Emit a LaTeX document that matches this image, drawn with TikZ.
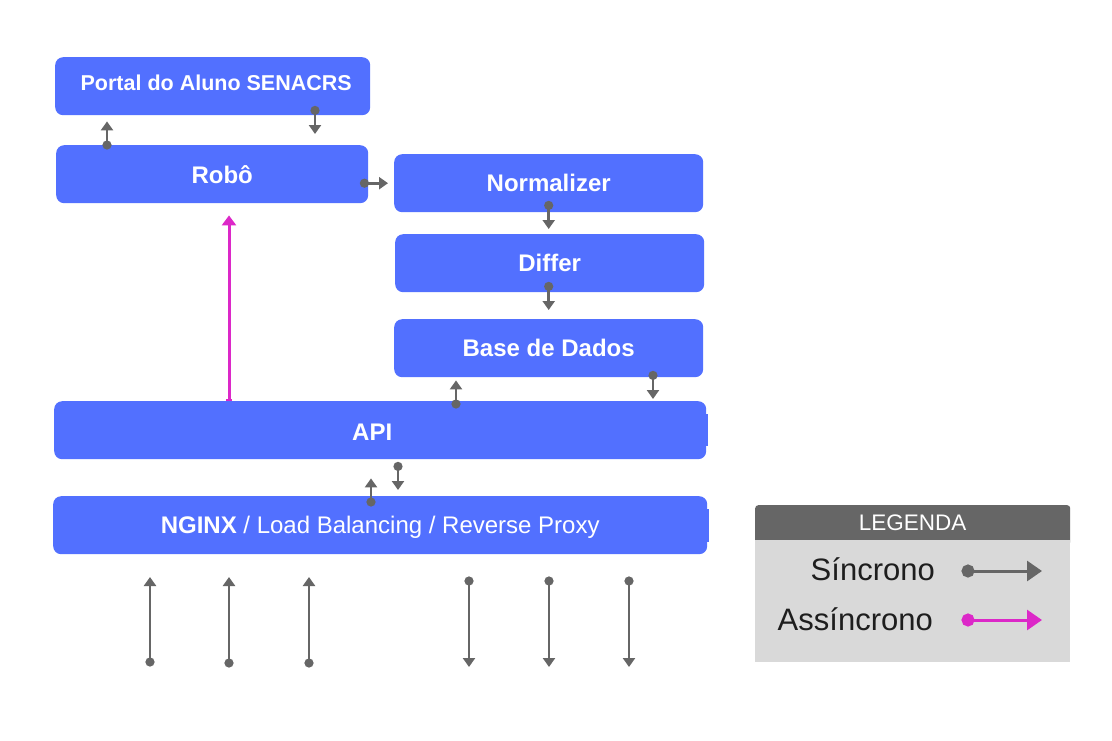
\documentclass[tikz,border=0pt]{standalone}
\usepackage{fontspec}
\setmainfont{Liberation Sans}
\usetikzlibrary{arrows.meta}
\definecolor{boxblue}{HTML}{5270FF}
\definecolor{agray}{HTML}{666666}
\definecolor{amag}{HTML}{DC28C8}
\definecolor{leghead}{HTML}{666666}
\definecolor{legbody}{HTML}{D9D9D9}
\definecolor{legtext}{HTML}{1E1E1E}
\newcommand{\vshift}[2]{\raisebox{#1}[\height][\depth]{#2}}
\begin{document}
\begin{tikzpicture}[x=1pt,y=-1pt,
  box/.style={fill=boxblue, rounded corners=8pt, text=white, inner sep=0pt, anchor=north west,
    minimum height=58pt, font=\fontsize{24}{28}\selectfont\bfseries},
  sync/.style={draw=agray, line width=2.9pt, {Circle[length=9pt]}-{Triangle[width=12pt,length=9pt]}},
  async/.style={draw=amag, line width=3pt, {Rectangle[width=6pt,length=2pt]}-{Triangle[width=14pt,length=10pt]}},
  legsync/.style={draw=agray, line width=3pt, {Circle[length=13pt]}-{Triangle[width=20pt,length=15pt]}},
  legasync/.style={draw=amag, line width=3pt, {Circle[length=13pt]}-{Triangle[width=20pt,length=15pt]}},
  legfont/.style={font=\fontsize{31}{36}\selectfont, text=legtext, inner sep=0pt},
]
\useasboundingbox[fill=white] (0,0) rectangle (1112,740);

% boxes
\node[box, minimum width=315pt, font=\fontsize{21.5}{26}\selectfont\bfseries] (portal) at (55,57) {\hspace*{7pt}\vshift{3pt}{Portal do Aluno SENACRS}};
\node[box, minimum width=312pt] (robo) at (56,145) {\hspace*{20pt}Robô};
\node[box, minimum width=309pt] (norm) at (394,154) {Normalizer};
\node[box, minimum width=309pt] (differ) at (395,234) {Differ};
\node[box, minimum width=309pt] (base) at (394,319) {Base de Dados};
\node[box, minimum width=652pt] (api) at (54,401) {\hspace*{-16pt}\vshift{-2pt}{API}};
\node[box, minimum width=654pt] (nginx) at (53,496) {\vshift{-2pt}{NGINX{\mdseries{} / Load Balancing / Reverse Proxy}}};
\fill[boxblue] ([yshift=16pt]api.east) rectangle ([xshift=2pt,yshift=-16pt]api.east);
\fill[boxblue] ([yshift=16pt]nginx.east) rectangle ([xshift=2pt,yshift=-17pt]nginx.east);

% synchronous connectors
\draw[sync] ([shift={(51,4.5)}]robo.north west) -- ([shift={(52,6)}]portal.south west);
\draw[sync] ([shift={(260,-9.5)}]portal.south west) -- ([shift={(259,-11)}]robo.north west);
\draw[sync] ([shift={(-8.5,9)}]robo.east) -- ([shift={(-6,0)}]norm.west);
\draw[sync] ([shift={(0,-11.5)}]norm.south) -- ([shift={(-1,-5)}]differ.north);
\draw[sync] ([shift={(-1,-10.5)}]differ.south) -- ([shift={(0,-9)}]base.north);
\draw[sync] ([shift={(402,7.5)}]api.north west) -- ([shift={(62,3)}]base.south west);
\draw[sync] ([shift={(259,-6.5)}]base.south west) -- ([shift={(599,-2)}]api.north west);
\draw[sync] ([shift={(318,10.5)}]nginx.north west) -- ([shift={(317,19)}]api.south west);
\draw[sync] ([shift={(344,2.5)}]api.south west) -- ([shift={(345,-6)}]nginx.north west);

% asynchronous connector
\draw[async] ([shift={(175,0)}]api.north west) -- ([shift={(173,12)}]robo.south west);

% external connectors
\coordinate (in1s) at (150,666.5); \coordinate (in1e) at (150,577);
\coordinate (in2s) at (229,667.5); \coordinate (in2e) at (229,577);
\coordinate (in3s) at (309,667.5); \coordinate (in3e) at (309,577);
\coordinate (out1s) at (469,576.5); \coordinate (out1e) at (469,667);
\coordinate (out2s) at (549,576.5); \coordinate (out2e) at (549,667);
\coordinate (out3s) at (629,576.5); \coordinate (out3e) at (629,667);
\draw[sync] (in1s) -- (in1e);
\draw[sync] (in2s) -- (in2e);
\draw[sync] (in3s) -- (in3e);
\draw[sync] (out1s) -- (out1e);
\draw[sync] (out2s) -- (out2e);
\draw[sync] (out3s) -- (out3e);

% legend
\node[fill=leghead, rounded corners=3pt, anchor=north west, minimum width=315pt, minimum height=40pt,
  inner sep=0pt, text=white, font=\fontsize{22.5}{26}\selectfont] (legtitle) at (755,505) {\vshift{2pt}{LEGENDA}};
\node[fill=legbody, anchor=north west, minimum width=315pt, minimum height=122pt, inner sep=0pt] (legbox) at (755,540) {};
\node[legfont, anchor=base east] (sinc) at (935,580) {Síncrono};
\node[legfont, anchor=base east] (assinc) at (933,630) {Assíncrono};
\draw[legsync] ([shift={(26.5,-9)}]sinc.base east) -- ([shift={(107,-9)}]sinc.base east);
\draw[legasync] ([shift={(28.5,-10)}]assinc.base east) -- ([shift={(109,-10)}]assinc.base east);
\end{tikzpicture}
\end{document}
